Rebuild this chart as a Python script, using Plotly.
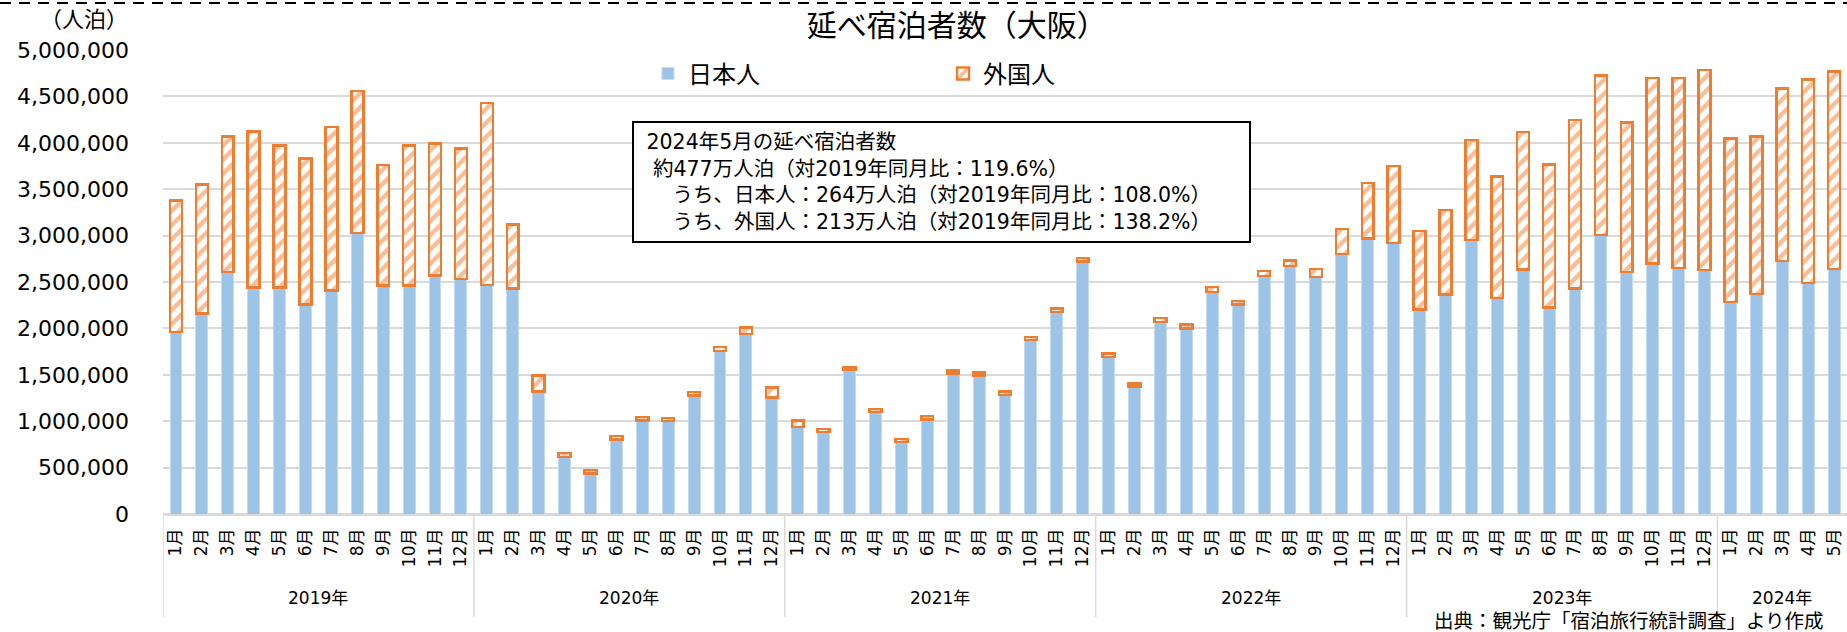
import plotly.graph_objects as go

years = ["2019年", "2020年", "2021年", "2022年", "2023年", "2024年"]
month_counts = [12, 12, 12, 12, 12, 5]

# 延べ宿泊者数（人泊）
japanese = [
    1960000, 2160000, 2610000, 2440000, 2440000, 2260000, 2410000, 3030000, 2460000, 2460000, 2570000, 2530000,
    2470000, 2430000, 1320000, 615000, 435000, 805000, 1010000, 1000000, 1276000, 1754000, 1940000, 1255000,
    940000, 884000, 1550000, 1100000, 776000, 1020000, 1513000, 1495000, 1283000, 1873000, 2175000, 2720000,
    1693000, 1373000, 2070000, 2000000, 2394000, 2257000, 2566000, 2671000, 2556000, 2800000, 2969000, 2922000,
    2203000, 2365000, 2951000, 2329000, 2635000, 2225000, 2430000, 3005000, 2610000, 2700000, 2653000, 2628000,
    2286000, 2369000, 2725000, 2491000, 2640000,
]
foreign = [
    1420000, 1390000, 1460000, 1680000, 1530000, 1570000, 1760000, 1530000, 1300000, 1510000, 1420000, 1410000,
    1960000, 690000, 170000, 40000, 40000, 35000, 35000, 35000, 40000, 45000, 70000, 110000,
    65000, 30000, 30000, 30000, 30000, 35000, 35000, 30000, 35000, 35000, 40000, 40000,
    35000, 35000, 40000, 40000, 50000, 40000, 50000, 60000, 85000, 270000, 600000, 830000,
    845000, 910000, 1080000, 1310000, 1480000, 1540000, 1815000, 1720000, 1610000, 2000000, 2045000, 2155000,
    1760000, 1700000, 1860000, 2190000, 2130000,
]

# month positions on the x axis + their labels
months = []
year_start = []
for n in month_counts:
    year_start.append(len(months))
    months += [f"{m}月" for m in range(1, n + 1)]
x = list(range(len(months)))

FONT = "DejaVu Sans, Noto Sans CJK JP, sans-serif"
BLUE = "#9DC3E6"
ORANGE = "#ED7D31"
GRID = "#d9d9d9"

fig = go.Figure()
fig.add_trace(go.Bar(
    x=x, y=japanese, name="日本人",
    marker=dict(color=BLUE, line=dict(color="#c5dbf0", width=1)),
))
fig.add_trace(go.Bar(
    x=x, y=foreign, name="外国人",
    marker=dict(
        color="white",
        line=dict(color=ORANGE, width=2.5),
        pattern=dict(shape="/", fgcolor=ORANGE, bgcolor="white", size=10, solidity=0.45),
    ),
))

fig.update_layout(
    width=1847, height=632,
    margin=dict(l=163, r=0, t=50, b=118),
    barmode="stack", bargap=0.54,
    paper_bgcolor="white", plot_bgcolor="white",
    font=dict(family=FONT, color="black", size=18),
    title=dict(text="延べ宿泊者数（大阪）", x=0.518, xanchor="center", y=0.959, yanchor="middle",
               font=dict(family=FONT, size=30, color="black")),
    legend=dict(orientation="h", x=0.288, xanchor="left", y=0.997, yanchor="top",
                font=dict(family=FONT, size=24), bgcolor="rgba(0,0,0,0)",
                entrywidth=250, entrywidthmode="pixels", traceorder="normal"),
    showlegend=True,
)

fig.update_yaxes(
    range=[0, 5000000], dtick=500000, tickformat=",", automargin=False,
    showgrid=True, gridcolor=GRID, gridwidth=1.5,
    zeroline=True, zerolinecolor=GRID, zerolinewidth=1.5,
    showline=False, ticks="", ticklabelstandoff=33,
    tickfont=dict(family=FONT, size=22),
)
fig.update_xaxes(
    range=[-0.5, len(months) - 0.5], tickmode="array", tickvals=x, ticktext=months,
    tickangle=-90, automargin=False, showgrid=False, zeroline=False,
    showline=True, linecolor=GRID, linewidth=1.5, ticks="", ticklabelstandoff=6,
    tickfont=dict(family=FONT, size=17),
)

# year group labels and dividers under the month labels
for yr, start, n in zip(years, year_start, month_counts):
    fig.add_shape(
        type="line", xref="x", yref="paper", x0=start - 0.5, x1=start - 0.5, y0=0, y1=-0.222,
        line=dict(color=GRID, width=1.5),
    )
    fig.add_annotation(
        text=yr, xref="x", yref="paper", x=start + (n - 1) / 2, y=-0.182,
        xanchor="center", yanchor="middle", showarrow=False,
        font=dict(family=FONT, size=17, color="black"),
    )

# Text box
box_text = (
    "\u00a02024年5月の延べ宿泊者数<br>"
    "\u00a0\u00a0約477万人泊（対2019年同月比：119.6%）<br>"
    "\u00a0\u00a0\u00a0\u00a0\u00a0うち、日本人：264万人泊（対2019年同月比：108.0%）<br>"
    "\u00a0\u00a0\u00a0\u00a0\u00a0うち、外国人：213万人泊（対2019年同月比：138.2%）"
)
fig.add_annotation(
    text=box_text, xref="paper", yref="paper", x=0.2785, y=0.847,
    xanchor="left", yanchor="top", align="left", valign="middle",
    width=603, height=106, borderpad=6,
    bordercolor="black", borderwidth=2, bgcolor="white", showarrow=False,
    font=dict(family=FONT, size=20.5, color="black"),
)
fig.add_annotation(
    text="（人泊）", xref="paper", yref="paper", x=-0.0196, y=1.0647,
    xanchor="right", yanchor="middle", showarrow=False,
    font=dict(family=FONT, size=22, color="black"),
)
fig.add_annotation(
    text="出典：観光庁「宿泊旅行統計調査」より作成", xref="paper", yref="paper",
    x=0.9875, y=-0.231, xanchor="right", yanchor="middle", showarrow=False,
    font=dict(family=FONT, size=19.5, color="black"),
)
fig.add_shape(
    type="line", xref="paper", yref="paper", x0=-0.0968, x1=1.0, y0=1.1013, y1=1.1013,
    line=dict(color="black", width=2, dash="11px,8px"),
)

# drop the browser's default body margin so the figure fills the window exactly
fig.write_html("out.html", config={"displayModeBar": False},
               post_script="document.body.style.margin='0px';")
